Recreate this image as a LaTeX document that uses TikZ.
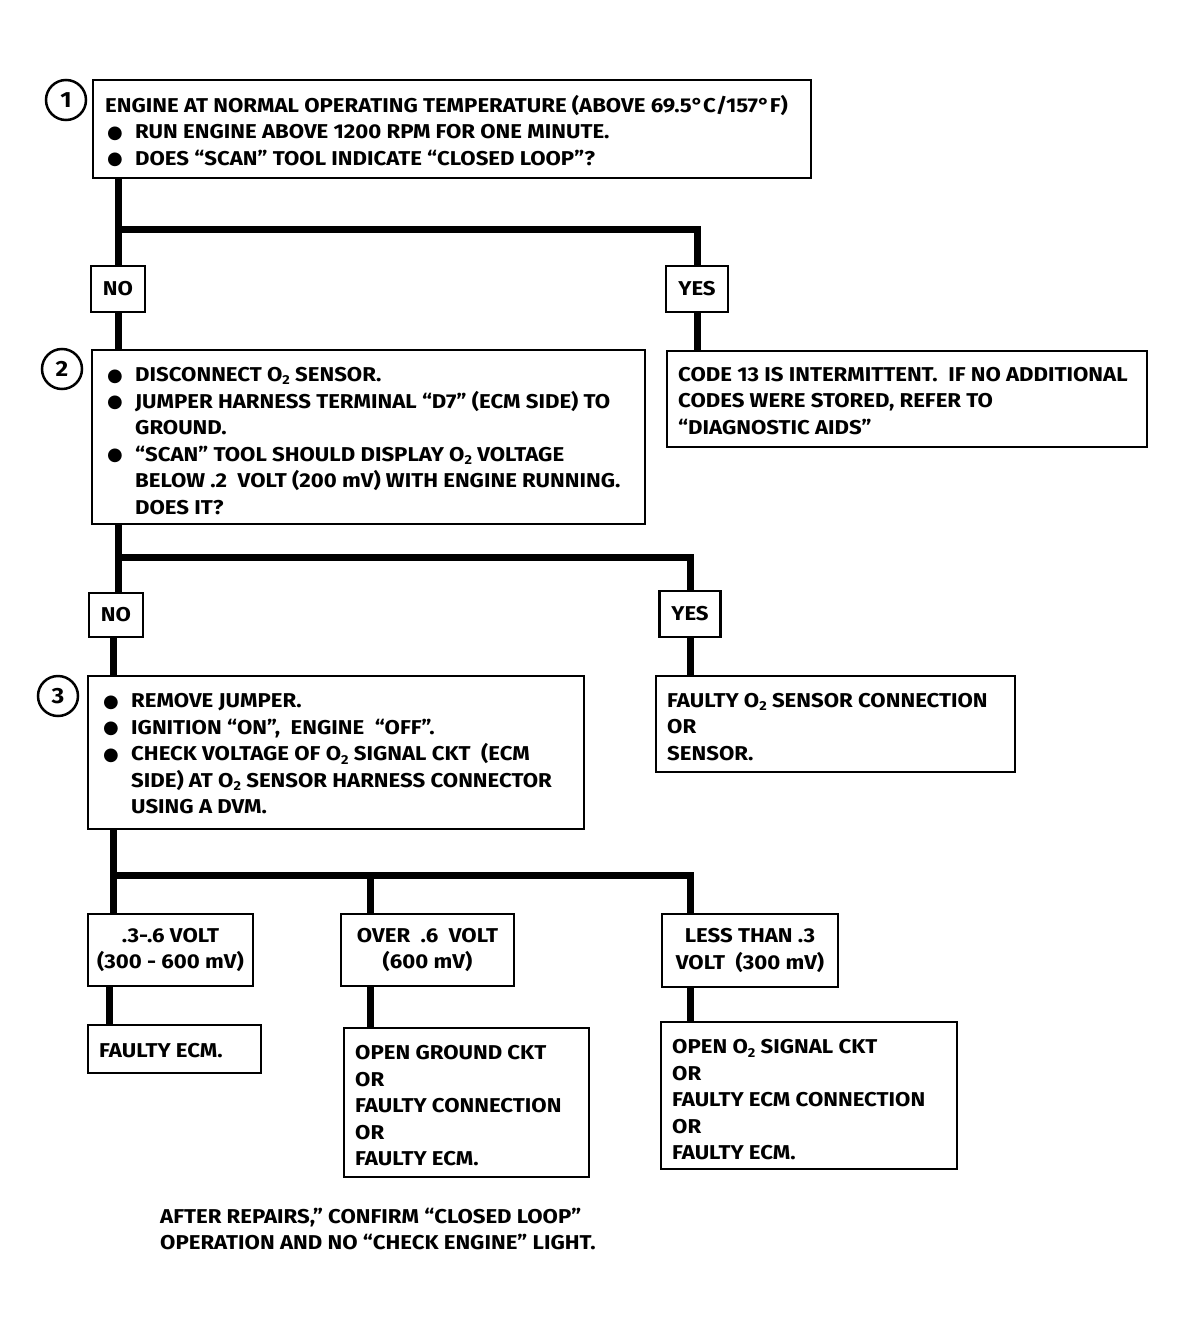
\documentclass[tikz,border=0pt]{standalone}
\usepackage{fontspec}
\setmainfont{Fira Sans}[FakeStretch=1.11]
\newfontfamily\djv{DejaVu Sans}
\newcommand\sub[1]{\raisebox{-0.3ex}{\fontsize{13}{13}\selectfont #1}}
\newcommand\bul{\makebox[30pt][l]{\hspace{2pt}\raisebox{0.5pt}{\djv\fontsize{18}{18}\selectfont ●}}}
\newcommand\ind{\hspace*{30pt}}
\tikzset{
  x=1pt, y=-1pt,
  box/.style={draw, line width=2.5pt, inner sep=0pt},
  txt/.style={inner sep=0pt, align=left, anchor=west, font=\fontsize{20}{26.5}\selectfont\bfseries},
  ctxt/.style={box, align=center, font=\fontsize{20}{26.5}\selectfont\bfseries},
  num/.style={draw, circle, line width=2.5pt, minimum size=40pt, inner sep=0pt, font=\fontsize{22}{24}\selectfont\bfseries},
  conn/.style={line width=7pt}
}
\begin{document}
\begin{tikzpicture}
\useasboundingbox[fill=white] (0,0) rectangle (1187,1327);
% step 1
\node[num] (n1) at (66,100) {1};
\node[box, minimum width=718pt, minimum height=98pt] (b1) at (452,129) {};
\node[txt] (t1) at (105,131) {ENGINE AT NORMAL OPERATING TEMPERATURE (ABOVE 69.5°C/157°F)\\
\bul RUN ENGINE ABOVE 1200 RPM FOR ONE MINUTE.\\
\bul DOES ``SCAN'' TOOL INDICATE ``CLOSED LOOP''?};
\node[ctxt, minimum width=54pt, minimum height=46pt] (no1) at (118,289) {NO};
\node[ctxt, minimum width=62pt, minimum height=46pt] (yes1) at (697,289) {YES};
\node[box, minimum width=480pt, minimum height=96pt] (y1) at (907,399) {};
\node[txt] (ty1) at (678,401) {CODE 13 IS INTERMITTENT.\ \ IF NO ADDITIONAL\\
CODES WERE STORED, REFER TO\\
``DIAGNOSTIC AIDS''};
\coordinate (j1) at (118,229);
% step 2
\node[num] (n2) at (62,369) {2};
\node[box, minimum width=553pt, minimum height=174pt] (b2) at (368.5,437) {};
\node[txt] (t2) at (105,441) {\bul DISCONNECT O\sub{2} SENSOR.\\
\bul JUMPER HARNESS TERMINAL ``D7'' (ECM SIDE) TO\\
\ind GROUND.\\
\bul ``SCAN'' TOOL SHOULD DISPLAY O\sub{2} VOLTAGE\\
\ind BELOW .2\ \ VOLT (200 mV) WITH ENGINE RUNNING.\\
\ind DOES IT?};
\node[ctxt, minimum width=54pt, minimum height=44pt] (no2) at (116,615) {NO};
\node[ctxt, minimum width=61pt, minimum height=46pt] (yes2) at (690,614) {YES};
\node[box, minimum width=359pt, minimum height=96pt] (y2) at (835.5,724) {};
\node[txt] (ty2) at (667,727) {FAULTY O\sub{2} SENSOR CONNECTION\\
OR\\
SENSOR.};
\coordinate (j2) at (118,557);
% step 3
\node[num] (n3) at (58,696) {3};
\node[box, minimum width=496pt, minimum height=153pt] (b3) at (336,752.5) {};
\node[txt] (t3) at (101,754) {\bul REMOVE JUMPER.\\
\bul IGNITION ``ON'',\ \ ENGINE\ \ ``OFF''.\\
\bul CHECK VOLTAGE OF O\sub{2} SIGNAL CKT\ \ (ECM\\
\ind SIDE) AT O\sub{2} SENSOR HARNESS CONNECTOR\\
\ind USING A DVM.};
\coordinate (ja) at (113,875);
\coordinate (jb) at (370,875);
\coordinate (jc) at (690,875);
\node[ctxt, minimum width=165pt, minimum height=72pt] (va) at (170.5,950) {.3-.6 VOLT\\(300 - 600 mV)};
\node[ctxt, minimum width=173pt, minimum height=72pt] (vb) at (427.5,950) {OVER\ \ .6\ \ VOLT\\(600 mV)};
\node[ctxt, minimum width=176pt, minimum height=73pt] (vc) at (750,950.5) {LESS THAN .3\\VOLT\ \ (300 mV)};
\node[box, minimum width=173pt, minimum height=48pt] (ra) at (174.5,1049) {};
\node[txt] (tra) at (99,1051) {FAULTY ECM.};
\node[box, minimum width=245pt, minimum height=149pt] (rb) at (466.5,1102.5) {};
\node[txt] (trb) at (355,1106) {OPEN GROUND CKT\\OR\\FAULTY CONNECTION\\OR\\FAULTY ECM.};
\node[box, minimum width=296pt, minimum height=147pt] (rc) at (809,1095.5) {};
\node[txt] (trc) at (672,1100) {OPEN O\sub{2} SIGNAL CKT\\OR\\FAULTY ECM CONNECTION\\OR\\FAULTY ECM.};
\node[txt] (foot) at (160,1229) {AFTER REPAIRS,'' CONFIRM ``CLOSED LOOP''\\OPERATION AND NO ``CHECK ENGINE'' LIGHT.};
% connectors
\draw[conn] (b1.south -| no1.north) -- (no1.north);
\draw[conn] (no1.north |- j1) -| (yes1.north);
\draw[conn] (yes1.south) -- (yes1.south |- y1.north);
\draw[conn] (no1.south) -- (no1.south |- b2.north);
\draw[conn] (b2.south -| j2) -- (j2 |- no2.north);
\draw[conn] (j2) -| (yes2.north);
\draw[conn] (yes2.south) -- (yes2.south |- y2.north);
\draw[conn] (no2.south -| ja) -- (ja |- b3.north);
\draw[conn] (b3.south -| ja) -- (ja) -- (jc) -- (jc |- vc.north);
\draw[conn] (ja) -- (ja |- va.north);
\draw[conn] (jb) -- (jb |- vb.north);
\draw[conn] (va.south -| ra.north west) ++(23,0) coordinate (ka) -- (ka |- ra.north);
\draw[conn] (vb.south -| jb) -- (jb |- rb.north);
\draw[conn] (vc.south -| jc) -- (jc |- rc.north);
\end{tikzpicture}
\end{document}
